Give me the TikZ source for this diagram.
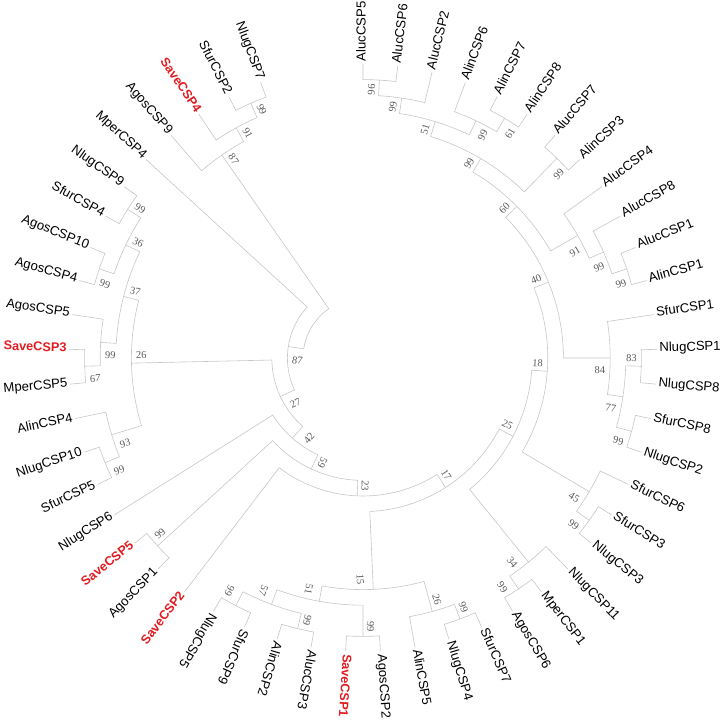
\documentclass[tikz,border=0pt]{standalone}
\usepackage{fontspec}
\setmainfont{Liberation Sans}
\newfontfamily\bootfont{Liberation Serif}
\usepackage{tikz}
\definecolor{savered}{RGB}{226,28,33}

% angular step per taxon (53 slots), tip radius, level spacing
\newcommand\stp{6.79245}
\newcommand\Rtip{294}
\newcommand\lev{15.6}

\newcommand\leafat[3]{%
  \expandafter\xdef\csname kk#2\endcsname{#1}%
  \expandafter\xdef\csname hh#2\endcsname{0}%
  \expandafter\gdef\csname bb#2\endcsname{}%
  \pgfmathsetmacro\trA{90-\stp*#1}%
  \pgfmathsetmacro\trL{\Rtip+2}%
  \coordinate (#2) at (\trA:\Rtip pt);
  \ifnum#1>31
    \pgfmathsetmacro\trR{\trA+180}%
    \node[#3, rotate=\trR, anchor=mid east] (t#2) at (\trA:\trL pt) {#2};
  \else
    \node[#3, rotate=\trA, anchor=mid west] (t#2) at (\trA:\trL pt) {#2};
  \fi
}

\newcommand\bootat[2]{%
  \expandafter\ifx\csname bb#1\endcsname\empty\else
    \edef\trKc{\csname kk#1\endcsname}%
    \edef\trRc{\csname rr#1\endcsname}%
    \pgfmathsetmacro\trAc{90-\stp*\trKc}%
    \pgfmathsetmacro\trRl{\trRc-10}%
    \ifdim\trKc pt>31.8pt
      \def\trF{-1}\pgfmathsetmacro\trRot{\trAc+180}%
    \else
      \def\trF{1}\let\trRot\trAc
    \fi
    \pgfmathsetmacro\trOff{10-2.5*#2*\trF}%
    \pgfmathsetmacro\trAl{\trAc+#2*\trOff/\trRl*57.29578}%
    \node[boot, rotate=\trRot] (b#1) at (\trAl:\trRl pt) {\csname bb#1\endcsname};
  \fi
}

\newcommand\clade[4]{%
  \edef\trKa{\csname kk#2\endcsname}%
  \edef\trKb{\csname kk#3\endcsname}%
  \edef\trHa{\csname hh#2\endcsname}%
  \edef\trHb{\csname hh#3\endcsname}%
  \pgfmathsetmacro\trK{(\trKa+\trKb)/2}%
  \pgfmathtruncatemacro\trH{max(\trHa,\trHb)+1}%
  \expandafter\xdef\csname kk#1\endcsname{\trK}%
  \expandafter\xdef\csname hh#1\endcsname{\trH}%
  \expandafter\gdef\csname bb#1\endcsname{#4}%
  \pgfmathsetmacro\trAa{90-\stp*\trKa}%
  \pgfmathsetmacro\trAb{90-\stp*\trKb}%
  \pgfmathsetmacro\trAx{90-\stp*\trK}%
  \pgfmathsetmacro\trRx{\Rtip-\lev*\trH}%
  \expandafter\xdef\csname rr#1\endcsname{\trRx}%
  \coordinate (#1) at (\trAx:\trRx pt);
  \draw[branch] (#2) -- (\trAa:\trRx pt) arc[start angle=\trAa, end angle=\trAb, radius=\trRx pt] -- (#3);
  \bootat{#2}{1}%
  \bootat{#3}{-1}%
}

\begin{document}
\begin{tikzpicture}[
branch/.style={draw=gray!45, line width=0.6pt}, taxon/.style={font=\fontsize{13.1}{15}\selectfont, inner sep=0.5pt}, save/.style={taxon, font=\fontsize{12.7}{15}\selectfont\bfseries, text=savered}, boot/.style={font=\bootfont\fontsize{10.5}{12}\selectfont, text=black!65, inner sep=0pt} ]
\useasboundingbox (-363pt,-366pt) rectangle (358pt,358pt);
\leafat{0}{AlucCSP5}{taxon}
\leafat{1}{AlucCSP6}{taxon}
\leafat{2}{AlucCSP2}{taxon}
\leafat{3}{AlinCSP6}{taxon}
\leafat{4}{AlinCSP7}{taxon}
\leafat{5}{AlinCSP8}{taxon}
\leafat{6}{AlucCSP7}{taxon}
\leafat{7}{AlinCSP3}{taxon}
\leafat{8}{AlucCSP4}{taxon}
\leafat{9}{AlucCSP8}{taxon}
\leafat{10}{AlucCSP1}{taxon}
\leafat{11}{AlinCSP1}{taxon}
\leafat{12}{SfurCSP1}{taxon}
\leafat{13}{NlugCSP1}{taxon}
\leafat{14}{NlugCSP8}{taxon}
\leafat{15}{SfurCSP8}{taxon}
\leafat{16}{NlugCSP2}{taxon}
\leafat{17}{SfurCSP6}{taxon}
\leafat{18}{SfurCSP3}{taxon}
\leafat{19}{NlugCSP3}{taxon}
\leafat{20}{NlugCSP11}{taxon}
\leafat{21}{MperCSP1}{taxon}
\leafat{22}{AgosCSP6}{taxon}
\leafat{23}{SfurCSP7}{taxon}
\leafat{24}{NlugCSP4}{taxon}
\leafat{25}{AlinCSP5}{taxon}
\leafat{26}{AgosCSP2}{taxon}
\leafat{27}{SaveCSP1}{save}
\leafat{28}{AlucCSP3}{taxon}
\leafat{29}{AlinCSP2}{taxon}
\leafat{30}{SfurCSP9}{taxon}
\leafat{31}{NlugCSP5}{taxon}
\leafat{32}{SaveCSP2}{save}
\leafat{33}{AgosCSP1}{taxon}
\leafat{34}{SaveCSP5}{save}
\leafat{35}{NlugCSP6}{taxon}
\leafat{36}{SfurCSP5}{taxon}
\leafat{37}{NlugCSP10}{taxon}
\leafat{38}{AlinCSP4}{taxon}
\leafat{39}{MperCSP5}{taxon}
\leafat{40}{SaveCSP3}{save}
\leafat{41}{AgosCSP5}{taxon}
\leafat{42}{AgosCSP4}{taxon}
\leafat{43}{AgosCSP10}{taxon}
\leafat{44}{SfurCSP4}{taxon}
\leafat{45}{NlugCSP9}{taxon}
\leafat{46}{MperCSP4}{taxon}
\leafat{47}{AgosCSP9}{taxon}
\leafat{48}{SaveCSP4}{save}
\leafat{49}{SfurCSP2}{taxon}
\leafat{50}{NlugCSP7}{taxon}
% clades: node, first child, second child, bootstrap
\clade{a1}{AlucCSP5}{AlucCSP6}{96}
\clade{a2}{a1}{AlucCSP2}{99}
\clade{a4}{AlinCSP7}{AlinCSP8}{61}
\clade{a3}{AlinCSP6}{a4}{99}
\clade{a5}{a2}{a3}{51}
\clade{a6}{AlucCSP7}{AlinCSP3}{99}
\clade{a7}{a5}{a6}{99}
\clade{b1}{AlucCSP1}{AlinCSP1}{99}
\clade{b2}{AlucCSP8}{b1}{99}
\clade{b3}{AlucCSP4}{b2}{91}
\clade{n11}{a7}{b3}{60}
\clade{c1}{NlugCSP1}{NlugCSP8}{83}
\clade{c2}{SfurCSP8}{NlugCSP2}{99}
\clade{c3}{c1}{c2}{77}
\clade{c4}{SfurCSP1}{c3}{84}
\clade{n10}{n11}{c4}{40}
\clade{d1}{SfurCSP3}{NlugCSP3}{99}
\clade{d2}{SfurCSP6}{d1}{45}
\clade{n9}{n10}{d2}{18}
\clade{e1}{MperCSP1}{AgosCSP6}{99}
\clade{e2}{NlugCSP11}{e1}{34}
\clade{n8}{n9}{e2}{25}
\clade{f1}{SfurCSP7}{NlugCSP4}{99}
\clade{f2}{f1}{AlinCSP5}{26}
\clade{g1}{AgosCSP2}{SaveCSP1}{99}
\clade{g2}{AlucCSP3}{AlinCSP2}{99}
\clade{g3}{SfurCSP9}{NlugCSP5}{99}
\clade{g4}{g2}{g3}{57}
\clade{g5}{g1}{g4}{51}
\clade{g6}{f2}{g5}{15}
\clade{n7}{n8}{g6}{17}
\clade{n6}{n7}{SaveCSP2}{23}
\clade{h1}{AgosCSP1}{SaveCSP5}{99}
\clade{n5}{n6}{h1}{59}
\clade{n4}{n5}{NlugCSP6}{42}
\clade{i1}{SfurCSP5}{NlugCSP10}{99}
\clade{i2}{i1}{AlinCSP4}{93}
\clade{j1}{MperCSP5}{SaveCSP3}{67}
\clade{j2}{j1}{AgosCSP5}{99}
\clade{j3}{AgosCSP4}{AgosCSP10}{99}
\clade{j4}{SfurCSP4}{NlugCSP9}{99}
\clade{j5}{j3}{j4}{36}
\clade{j6}{j2}{j5}{37}
\clade{i3}{i2}{j6}{26}
\clade{n3}{n4}{i3}{27}
\clade{n2}{n3}{MperCSP4}{87}
\clade{k1}{SfurCSP2}{NlugCSP7}{99}
\clade{k2}{SaveCSP4}{k1}{91}
\clade{k3}{AgosCSP9}{k2}{87}
\clade{n1}{n2}{k3}{}
\end{tikzpicture}
\end{document}
